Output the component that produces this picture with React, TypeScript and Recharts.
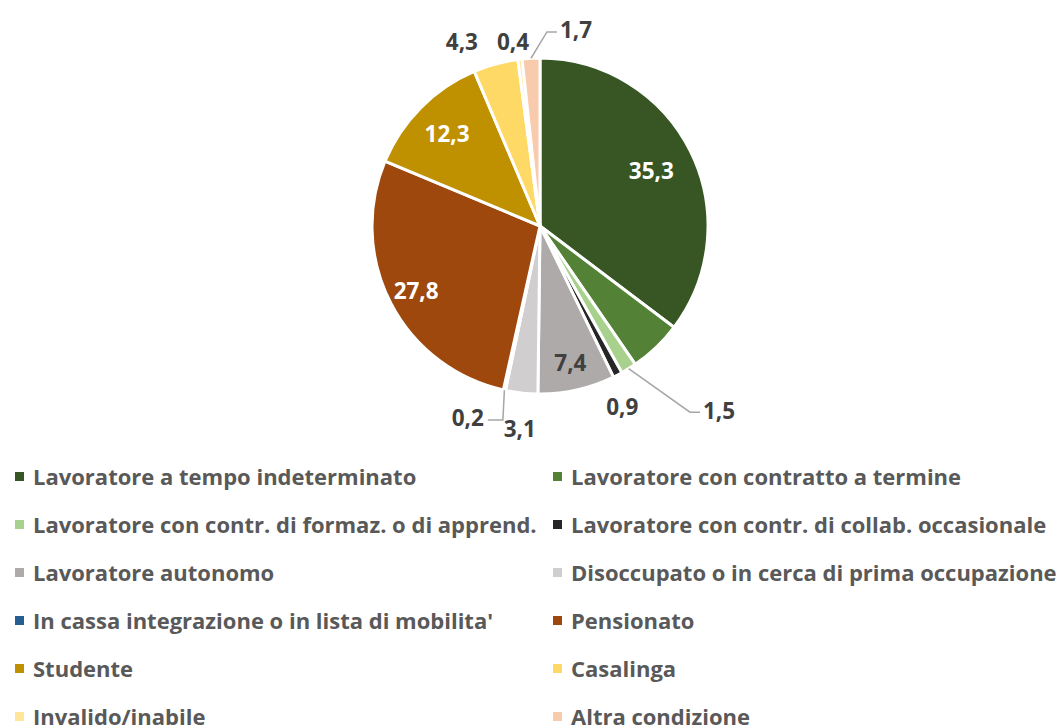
import React from "react";
import { PieChart, Pie, Cell, Legend } from "recharts";

const categories = [
  "Lavoratore a tempo indeterminato",
  "Lavoratore con contratto a termine",
  "Lavoratore con contr. di formaz. o di apprend.",
  "Lavoratore con contr. di collab. occasionale",
  "Lavoratore autonomo",
  "Disoccupato o in cerca di prima occupazione",
  "In cassa integrazione o in lista di mobilita'",
  "Pensionato",
  "Studente",
  "Casalinga",
  "Invalido/inabile",
  "Altra condizione",
];

const values = [35.3, 5.1, 1.5, 0.9, 7.4, 3.1, 0.2, 27.8, 12.3, 4.3, 0.4, 1.7];

// which values carry a printed label (the contract slice has none in the source)
const showLabel = [true, false, true, true, true, true, true, true, true, true, true, true];

const colors = [
  "#375623",
  "#538135",
  "#A9D18E",
  "#262626",
  "#AEAAAA",
  "#D0CECE",
  "#255E91",
  "#9E480E",
  "#BF9000",
  "#FFD966",
  "#FFE699",
  "#F8CBAD",
];

const data = categories.map((name, i) => ({ name, value: values[i] }));

// label placement: inside at a radius factor, or outside at a polar point (deg, factor of radius)
type Place =
  | { kind: "in"; f: number; color: string }
  | { kind: "out"; angle: number; f: number; anchor: "start" | "middle" | "end"; leader?: boolean };

const placement: Place[] = [
  { kind: "in", f: 0.74, color: "#FFFFFF" },
  { kind: "in", f: 0.8, color: "#FFFFFF" },
  { kind: "out", angle: -48.5, f: 1.464, anchor: "start", leader: true },
  { kind: "out", angle: -65.5, f: 1.18, anchor: "middle" },
  { kind: "in", f: 0.83, color: "#404040" },
  { kind: "out", angle: -95.7, f: 1.21, anchor: "middle" },
  { kind: "out", angle: -106.3, f: 1.19, anchor: "end", leader: true },
  { kind: "in", f: 0.83, color: "#FFFFFF" },
  { kind: "in", f: 0.78, color: "#FFFFFF" },
  { kind: "out", angle: 113, f: 1.19, anchor: "middle" },
  { kind: "out", angle: 98.3, f: 1.11, anchor: "middle" },
  { kind: "out", angle: 84.2, f: 1.173, anchor: "start", leader: true },
];

const RAD = Math.PI / 180;
const fmt = (v: number) => v.toFixed(1).replace(".", ",");
const FONT = "'Open Sans', sans-serif";
const LABEL_SIZE = 22.5;

function polar(cx: number, cy: number, r: number, deg: number) {
  return { x: cx + r * Math.cos(-deg * RAD), y: cy + r * Math.sin(-deg * RAD) };
}

function renderLabel(props: any) {
  const { cx, cy, midAngle, outerRadius, index, value } = props;
  if (!showLabel[index]) return null;
  const p = placement[index];
  if (p.kind === "in") {
    const pt = polar(cx, cy, outerRadius * p.f, midAngle);
    return (
      <text
        key={`l${index}`}
        x={pt.x}
        y={pt.y}
        fill={p.color}
        textAnchor="middle"
        dominantBaseline="central"
        fontFamily={FONT}
        fontWeight={700}
        fontSize={LABEL_SIZE}
      >
        {fmt(value)}
      </text>
    );
  }
  const pt = polar(cx, cy, outerRadius * p.f, p.angle);
  let leader = null;
  if (p.leader) {
    const s = polar(cx, cy, outerRadius, midAngle);
    const dir = p.anchor === "end" ? 1 : -1;
    const ex = pt.x + dir * (p.anchor === "end" ? 4 : 3);
    const kx = pt.x + dir * (p.anchor === "end" ? 19 : 13);
    const ly = pt.y + 2;
    leader = (
      <polyline
        points={`${s.x},${s.y} ${kx},${ly} ${ex},${ly}`}
        fill="none"
        stroke="#A6A6A6"
        strokeWidth={1.5}
      />
    );
  }
  return (
    <g key={`l${index}`}>
      {leader}
      <text
        x={pt.x}
        y={pt.y}
        fill="#404040"
        textAnchor={p.anchor}
        dominantBaseline="central"
        fontFamily={FONT}
        fontWeight={700}
        fontSize={LABEL_SIZE}
      >
        {fmt(value)}
      </text>
    </g>
  );
}

function LegendGrid() {
  return (
    <div
      style={{
        display: "grid",
        gridTemplateColumns: "538px 524px",
        fontFamily: FONT,
        fontWeight: 700,
        fontSize: 22,
        color: "#595959",
      }}
    >
      {categories.map((name, i) => (
        <div
          key={name}
          style={{
            height: 48,
            display: "flex",
            alignItems: "center",
            paddingLeft: 15,
            whiteSpace: "nowrap",
          }}
        >
          <span
            style={{
              display: "inline-block",
              width: 9,
              height: 9,
              background: colors[i],
              marginRight: 9,
            }}
          />
          {name}
        </div>
      ))}
    </div>
  );
}

export default function App() {
  return (
    <div style={{ position: "absolute", left: 0, top: 0, width: 1062, height: 727, background: "#fff", overflow: "hidden" }}>
      <PieChart width={1062} height={727} margin={{ top: 0, right: 0, bottom: 0, left: 0 }}>
        <Pie
          data={data}
          dataKey="value"
          nameKey="name"
          cx={540}
          cy={226}
          outerRadius={168}
          startAngle={90}
          endAngle={-270}
          stroke="#FFFFFF"
          strokeWidth={3}
          label={renderLabel}
          labelLine={false}
          isAnimationActive={false}
        >
          {data.map((d, i) => (
            <Cell key={d.name} fill={colors[i]} />
          ))}
        </Pie>
        <Legend
          content={() => <LegendGrid />}
          wrapperStyle={{ position: "absolute", top: 452, left: 0, width: 1062 }}
        />
      </PieChart>
    </div>
  );
}
